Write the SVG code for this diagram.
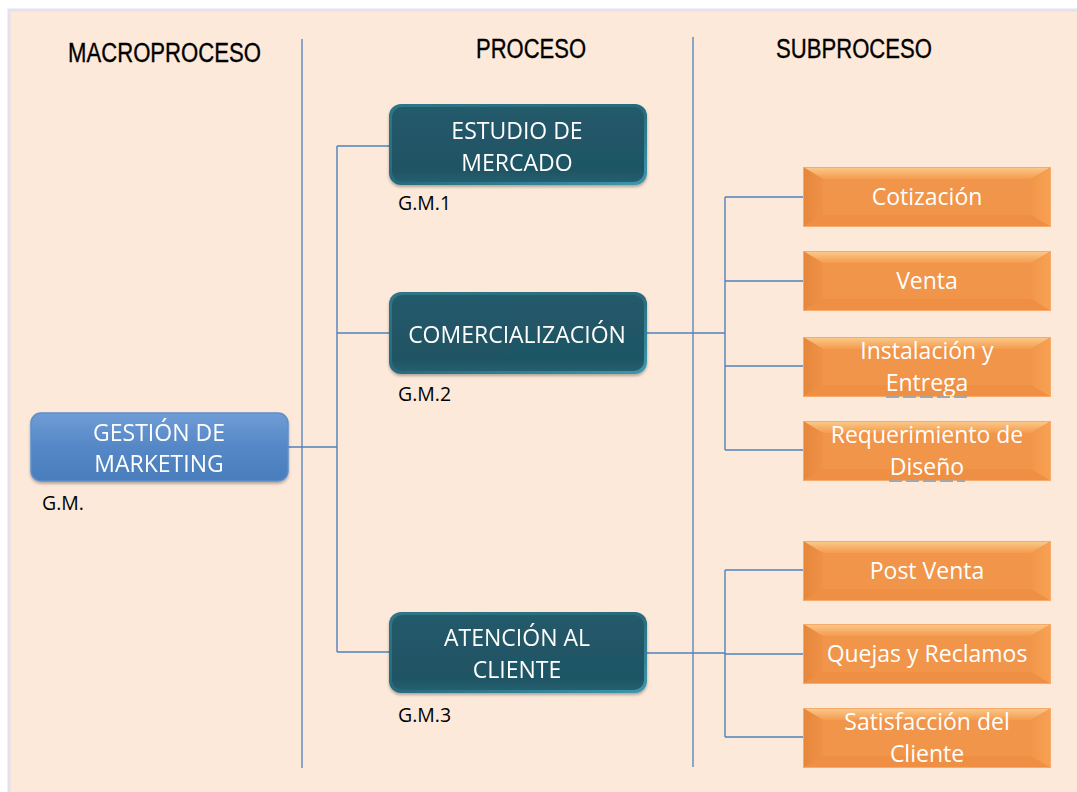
<svg xmlns="http://www.w3.org/2000/svg" width="1077" height="792" viewBox="0 0 1077 792">
  <defs>
    <linearGradient id="gBlue" x1="0" y1="0" x2="0" y2="1">
      <stop offset="0" stop-color="#6F9DD6"/>
      <stop offset="0.5" stop-color="#5587C6"/>
      <stop offset="1" stop-color="#4A7DBC"/>
    </linearGradient>
    <linearGradient id="gTeal" x1="0" y1="0" x2="0" y2="1">
      <stop offset="0" stop-color="#235C6C"/>
      <stop offset="0.15" stop-color="#215868"/>
      <stop offset="0.85" stop-color="#1F5564"/>
      <stop offset="1" stop-color="#255F6F"/>
    </linearGradient>
    <linearGradient id="gTealRim" x1="0" y1="0" x2="1" y2="1">
      <stop offset="0" stop-color="#2F7688"/>
      <stop offset="0.5" stop-color="#286A7B"/>
      <stop offset="1" stop-color="#3E97AE"/>
    </linearGradient>
    <linearGradient id="gTop" x1="0" y1="0" x2="0" y2="1">
      <stop offset="0" stop-color="#FBCB8C"/>
      <stop offset="1" stop-color="#F59B4E"/>
    </linearGradient>
    <linearGradient id="gLeft" x1="0" y1="0" x2="1" y2="0">
      <stop offset="0" stop-color="#E5863A"/>
      <stop offset="1" stop-color="#EF9248"/>
    </linearGradient>
    <linearGradient id="gRight" x1="0" y1="0" x2="1" y2="0">
      <stop offset="0" stop-color="#F29749"/>
      <stop offset="1" stop-color="#F7A154"/>
    </linearGradient>
    <filter id="shadow" x="-10%" y="-10%" width="120%" height="130%">
      <feGaussianBlur in="SourceAlpha" stdDeviation="1.5"/>
      <feOffset dx="0" dy="2" result="b"/>
      <feComponentTransfer><feFuncA type="linear" slope="0.3"/></feComponentTransfer>
      <feMerge><feMergeNode/><feMergeNode in="SourceGraphic"/></feMerge>
    </filter>
    <!-- bevelled orange subprocess box, 248 x 60 -->
    <g id="orangeBox">
      <rect x="0" y="0" width="248" height="60" fill="#F0944A"/>
      <polygon points="0,0 248,0 228,12 20,12" fill="url(#gTop)"/>
      <polygon points="0,0 20,12 20,48 0,60" fill="url(#gLeft)"/>
      <polygon points="248,0 248,60 228,48 228,12" fill="url(#gRight)"/>
      <polygon points="0,60 20,48 228,48 248,60" fill="#EE8F43"/>
      <rect x="20" y="12" width="208" height="36" fill="#F0954A"/>
      <rect x="0.5" y="0.5" width="247" height="59" fill="none" stroke="#F7AA6A" stroke-width="1"/>
    </g>
  </defs>
  <style>
    .hdr { font-family: "Liberation Sans", Arial, sans-serif; font-size: 27px; fill: #000; stroke: #000; stroke-width: 0.35; text-anchor: middle; }
    .lbl { font-family: "Open Sans", "Noto Sans", sans-serif; font-size: 23px; fill: #FFFFFF; text-anchor: middle; }
    .code { font-family: "Open Sans", "Noto Sans", sans-serif; font-size: 19.5px; fill: #000; }
    .sep { stroke: #4F81BD; stroke-width: 1.3; fill: none; }
    .con { stroke: #4F81BD; stroke-width: 1.4; fill: none; }
    .spell { stroke: #A6A6A6; stroke-width: 2; stroke-dasharray: 13 4; fill: none; }
  </style>

  <!-- page background -->
  <rect x="0" y="0" width="1077" height="792" fill="#FFFFFF"/>
  <rect x="9" y="10" width="1070" height="785" fill="#FDE9D9" stroke="#E6E0EE" stroke-width="3"/>

  <!-- column headings and separators -->
  <g id="headers">
    <text class="hdr" x="164.5" y="62" textLength="193" lengthAdjust="spacingAndGlyphs">MACROPROCESO</text>
    <text class="hdr" x="531" y="58" textLength="110" lengthAdjust="spacingAndGlyphs">PROCESO</text>
    <text class="hdr" x="854" y="58" textLength="156" lengthAdjust="spacingAndGlyphs">SUBPROCESO</text>
    <line class="sep" x1="302" y1="39" x2="302" y2="768"/>
    <line class="sep" x1="693" y1="37" x2="693" y2="767"/>
  </g>

  <!-- connectors -->
  <g id="connectors">
    <path class="con" d="M288,447 H337 M337,146 V652 M337,146 H390 M337,333 H390 M337,652 H390"/>
    <path class="con" d="M646,333 H725 M725,197 V450 M725,197 H803 M725,281 H803 M725,366 H803 M725,450 H803"/>
    <path class="con" d="M646,653 H725 M725,570 V737 M725,570 H803 M725,654 H803 M725,737 H803"/>
  </g>

  <!-- macroprocess -->
  <g id="node-gm" filter="url(#shadow)">
    <rect x="31" y="413" width="257" height="68" rx="10" fill="url(#gBlue)" stroke="#5C8ECB" stroke-width="1.5"/>
    <text class="lbl" x="159" y="441">GESTIÓN DE</text>
    <text class="lbl" x="159" y="472">MARKETING</text>
  </g>
  <text class="code" x="42" y="510">G.M.</text>

  <!-- processes -->
  <g id="node-gm1" filter="url(#shadow)">
    <rect x="389" y="104" width="258" height="81" rx="12" fill="url(#gTealRim)"/>
    <rect x="392" y="107" width="252" height="75" rx="10" fill="url(#gTeal)"/>
    <text class="lbl" x="517" y="139">ESTUDIO DE</text>
    <text class="lbl" x="517" y="171">MERCADO</text>
  </g>
  <text class="code" x="398" y="210">G.M.1</text>

  <g id="node-gm2" filter="url(#shadow)">
    <rect x="389" y="292" width="258" height="82" rx="12" fill="url(#gTealRim)"/>
    <rect x="392" y="295" width="252" height="76" rx="10" fill="url(#gTeal)"/>
    <text class="lbl" x="517" y="343">COMERCIALIZACIÓN</text>
  </g>
  <text class="code" x="398" y="401">G.M.2</text>

  <g id="node-gm3" filter="url(#shadow)">
    <rect x="389" y="612" width="258" height="81" rx="12" fill="url(#gTealRim)"/>
    <rect x="392" y="615" width="252" height="75" rx="10" fill="url(#gTeal)"/>
    <text class="lbl" x="517" y="646">ATENCIÓN AL</text>
    <text class="lbl" x="517" y="678">CLIENTE</text>
  </g>
  <text class="code" x="398" y="722">G.M.3</text>

  <!-- subprocesses -->
  <g id="sub-cotizacion">
    <use href="#orangeBox" x="803" y="167"/>
    <text class="lbl" x="927" y="205">Cotización</text>
  </g>
  <g id="sub-venta">
    <use href="#orangeBox" x="803" y="251"/>
    <text class="lbl" x="927" y="289">Venta</text>
  </g>
  <g id="sub-instalacion">
    <use href="#orangeBox" x="803" y="337"/>
    <text class="lbl" x="927" y="359">Instalación y</text>
    <text class="lbl" x="927" y="391">Entrega</text>
    <line class="spell" x1="886" y1="397" x2="968" y2="397"/>
  </g>
  <g id="sub-requerimiento">
    <use href="#orangeBox" x="803" y="421"/>
    <text class="lbl" x="927" y="443">Requerimiento de</text>
    <text class="lbl" x="927" y="475">Diseño</text>
    <line class="spell" x1="889" y1="481" x2="965" y2="481"/>
  </g>
  <g id="sub-postventa">
    <use href="#orangeBox" x="803" y="541"/>
    <text class="lbl" x="927" y="579">Post Venta</text>
  </g>
  <g id="sub-quejas">
    <use href="#orangeBox" x="803" y="624"/>
    <text class="lbl" x="927" y="662">Quejas y Reclamos</text>
  </g>
  <g id="sub-satisfaccion">
    <use href="#orangeBox" x="803" y="708"/>
    <text class="lbl" x="927" y="730">Satisfacción del</text>
    <text class="lbl" x="927" y="762">Cliente</text>
  </g>
</svg>
